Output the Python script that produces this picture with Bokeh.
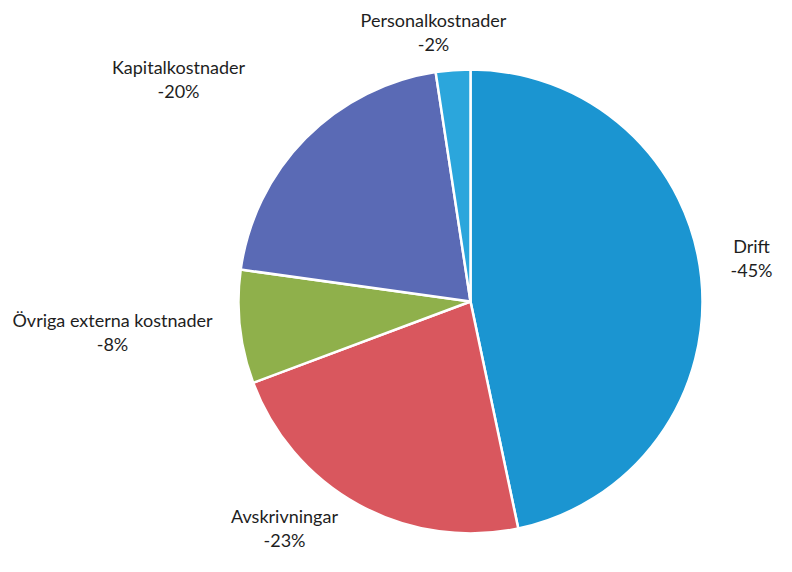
import math
from bokeh.plotting import figure
from bokeh.models import Range1d, ColumnDataSource
from bokeh.core.properties import value
from bokeh.embed import file_html
from bokeh.resources import INLINE

# Data (clockwise from 12 o'clock)
categories = ["Drift", "Avskrivningar", "Övriga externa kostnader", "Kapitalkostnader", "Personalkostnader"]
shares = [46.7, 22.6, 7.9, 20.4, 2.4]
pct_labels = ["-45%", "-23%", "-8%", "-20%", "-2%"]
colors = ["#1b95d1", "#d9575e", "#8fb04b", "#5a6ab5", "#2ba6dc"]

W, H = 776, 556
# picture coordinates -> data: x = px, y = H - py
cx, cy_pic, R = 470, 301, 232
cy = H - cy_pic

total = sum(shares)
starts, ends = [], []
cum = 0.0
for s in shares:
    a0 = math.pi / 2 - 2 * math.pi * cum / total
    cum += s
    a1 = math.pi / 2 - 2 * math.pi * cum / total
    starts.append(a1)
    ends.append(a0)

src = ColumnDataSource(dict(x=[cx] * len(shares), y=[cy] * len(shares),
                            start=starts, end=ends, color=colors, cat=categories))

p = figure(width=W, height=H, output_backend="svg", toolbar_location=None,
           x_range=Range1d(0, W), y_range=Range1d(0, H),
           min_border=0, outline_line_color=None)
p.axis.visible = False
p.grid.visible = False

p.wedge(x="x", y="y", radius=R, start_angle="start", end_angle="end",
        direction="anticlock", fill_color="color", line_color="white",
        line_width=2.5, source=src)

# label layout (picture coordinates of text centers)
label_x = [751, 284, 112, 178, 433]
label_y1 = [245, 515, 319, 66, 19]
line_gap = 24

lsrc = ColumnDataSource(dict(
    x=label_x + label_x,
    y=[H - v for v in label_y1] + [H - v - line_gap for v in label_y1],
    t=categories + pct_labels,
))
p.text(x="x", y="y", text="t", source=lsrc, text_align="center",
       text_baseline="middle", text_font=value("Lato"), text_font_size="18px",
       text_color="#1e1e1e")

open("out.html", "w").write(file_html(p, INLINE))
